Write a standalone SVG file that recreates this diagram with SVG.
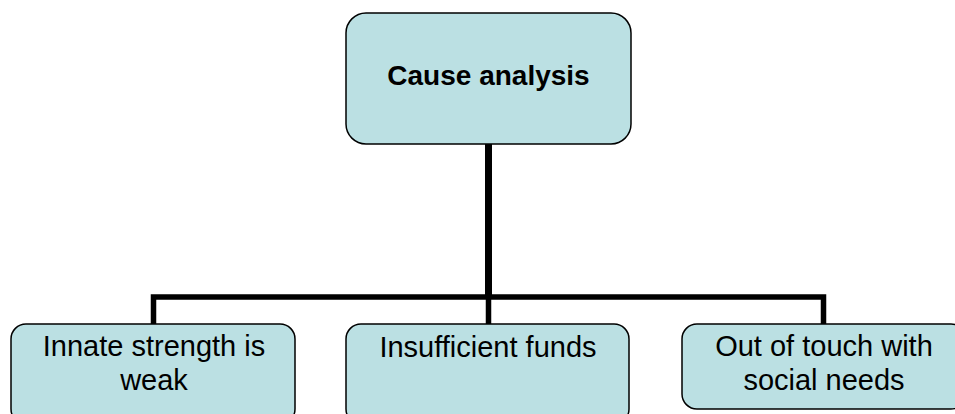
<svg xmlns="http://www.w3.org/2000/svg" width="955" height="414" viewBox="0 0 955 414">
  <style>
    .box { fill: #BBE0E3; stroke: #000; stroke-width: 1.5; }
    .lbl { font-family: "Liberation Sans", Arial, sans-serif; font-size: 29px; fill: #000; text-anchor: middle; }
    .bold { font-weight: bold; font-size: 28px; }
    .conn { fill: none; stroke: #000; stroke-linejoin: miter; stroke-linecap: butt; }
  </style>
  <rect width="955" height="414" fill="#fff"/>
  <g id="connectors">
    <path class="conn" stroke-width="7" d="M488.5,144 V297"/>
    <path class="conn" stroke-width="5.5" d="M153.5,324 V297 H823.5 V324 M488.5,297 V324"/>
  </g>
  <g id="node-cause">
    <rect class="box" x="346" y="13" width="285" height="131" rx="20" ry="20"/>
    <text class="lbl bold" x="488.5" y="85">Cause analysis</text>
  </g>
  <g id="node-innate">
    <rect class="box" x="11" y="324" width="284" height="100" rx="15" ry="15"/>
    <text class="lbl" x="154" y="356">Innate strength is</text>
    <text class="lbl" x="154" y="390">weak</text>
  </g>
  <g id="node-funds">
    <rect class="box" x="346" y="324" width="283" height="100" rx="15" ry="15"/>
    <text class="lbl" x="488" y="357">Insufficient funds</text>
  </g>
  <g id="node-social">
    <rect class="box" x="682" y="324" width="284" height="85" rx="15" ry="15"/>
    <text class="lbl" x="824" y="356">Out of touch with</text>
    <text class="lbl" x="824" y="390">social needs</text>
  </g>
</svg>
